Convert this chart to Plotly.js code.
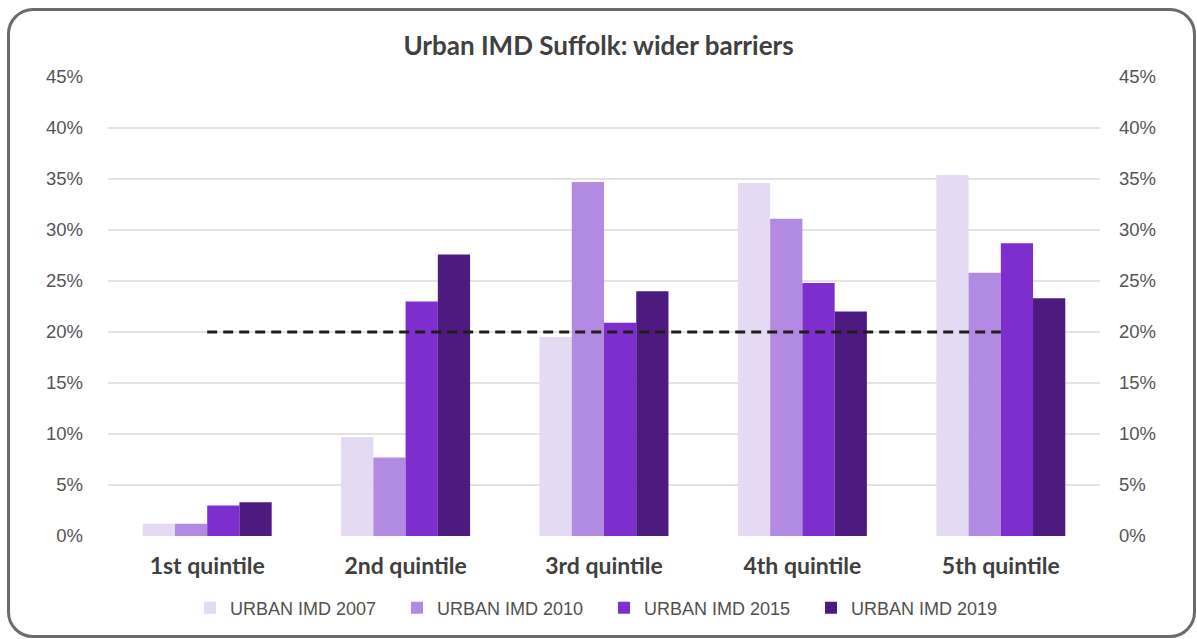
<!DOCTYPE html>
<html>
<head>
<meta charset="utf-8">
<script src="https://cdn.plot.ly/plotly-3.0.1.min.js"></script>
<style>
  html, body { margin: 0; padding: 0; background: #ffffff; }
  #wrap { position: relative; width: 1197px; height: 639px; overflow: hidden; }
  #frame { position: absolute; left: 7px; top: 8px; width: 1183px; height: 624px;
           border: 3px solid #6b6b6b; border-radius: 26px; pointer-events: none; }
  #chart { position: absolute; left: 0; top: 0; width: 1197px; height: 639px; }
</style>
</head>
<body>
<div id="wrap">
  <div id="chart"></div>
  <div id="frame"></div>
</div>
<script>
const categories = ['1st quintile', '2nd quintile', '3rd quintile', '4th quintile', '5th quintile'];
const seriesNames = ['URBAN IMD 2007', 'URBAN IMD 2010', 'URBAN IMD 2015', 'URBAN IMD 2019'];
const imd2007 = [0.012, 0.097, 0.195, 0.346, 0.354];
const imd2010 = [0.012, 0.077, 0.347, 0.311, 0.258];
const imd2015 = [0.030, 0.230, 0.209, 0.248, 0.287];
const imd2019 = [0.033, 0.276, 0.240, 0.220, 0.233];
const referenceLevel = [0.20, 0.20, 0.20, 0.20, 0.20];
const tickValues = [0, 0.05, 0.10, 0.15, 0.20, 0.25, 0.30, 0.35, 0.40, 0.45];
const tickLabels = ['0%', '5%', '10%', '15%', '20%', '25%', '30%', '35%', '40%', '45%'];

const colors = ['#e5daf3', '#b38ae2', '#7d2ecd', '#4d1a7f'];
const values = [imd2007, imd2010, imd2015, imd2019];

const traces = values.map((v, i) => ({
  type: 'bar',
  name: seriesNames[i],
  x: categories,
  y: v,
  marker: { color: colors[i], line: { width: 0 } },
  hoverinfo: 'x+y+name'
}));

traces.push({
  type: 'scatter',
  mode: 'lines',
  x: categories,
  y: referenceLevel,
  yaxis: 'y2',
  line: { color: '#1f1f1a', width: 3, dash: '10px,6px' },
  showlegend: false,
  hoverinfo: 'skip'
});

const tickFont = { family: 'Liberation Sans, Arial, sans-serif', size: 18.5, color: '#555555' };

const layout = {
  width: 1197,
  height: 639,
  paper_bgcolor: 'rgba(0,0,0,0)',
  plot_bgcolor: 'rgba(0,0,0,0)',
  margin: { l: 108, r: 97, t: 77, b: 103 },
  title: {
    text: '<b>Urban IMD Suffolk: wider barriers</b>',
    font: { family: 'Lato, Open Sans, sans-serif', size: 26, color: '#404040' },
    x: 0.5, xanchor: 'center', y: 0.928, yanchor: 'middle'
  },
  barmode: 'group',
  bargap: 0.35,
  bargroupgap: 0,
  xaxis: {
    type: 'category',
    tickfont: { family: 'Lato, Open Sans, sans-serif', size: 23, color: '#404040', weight: 'bold' },
    showgrid: false,
    showline: false,
    zeroline: false,
    ticks: '',
    ticklabelstandoff: 14
  },
  yaxis: {
    range: [0, 0.45],
    tickvals: tickValues,
    ticktext: tickLabels,
    tickfont: tickFont,
    showgrid: true,
    gridcolor: '#e3e3e3',
    gridwidth: 1.5,
    zeroline: false,
    showline: false,
    ticks: '',
    ticklabelstandoff: 24
  },
  yaxis2: {
    overlaying: 'y',
    side: 'right',
    range: [0, 0.45],
    tickvals: tickValues,
    ticktext: tickLabels,
    tickfont: tickFont,
    showgrid: false,
    zeroline: false,
    showline: false,
    ticks: '',
    ticklabelstandoff: 18
  },
  legend: {
    orientation: 'h',
    x: 0.5, xanchor: 'center',
    y: -0.157, yanchor: 'middle',
    font: { family: 'Liberation Sans, Arial, sans-serif', size: 18, color: '#505050' },
    entrywidth: 162,
    itemwidth: 30,
    traceorder: 'normal'
  },
  showlegend: true
};

Plotly.newPlot('chart', traces, layout, { displayModeBar: false, staticPlot: true });
</script>
</body>
</html>
